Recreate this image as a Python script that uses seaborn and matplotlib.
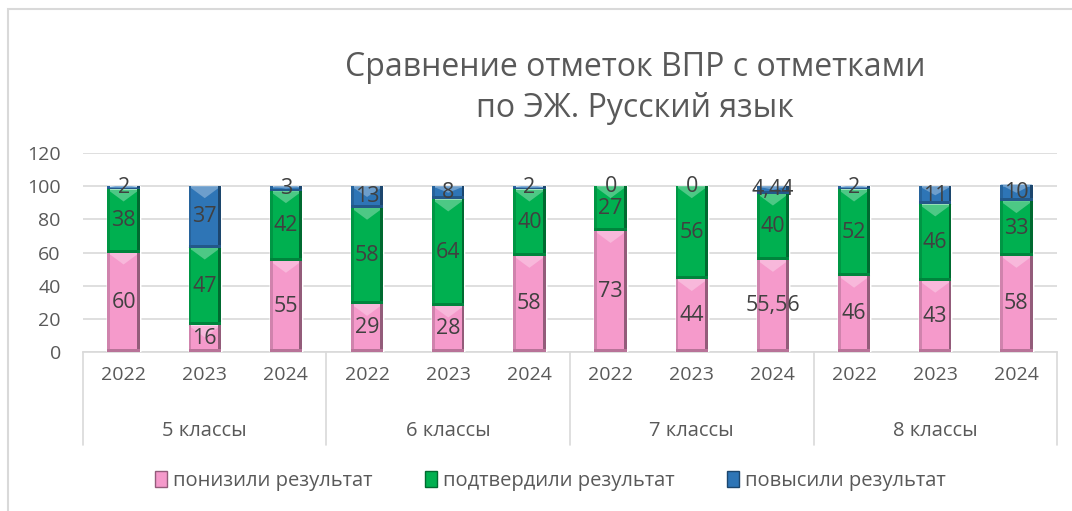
import numpy as np
import pandas as pd
import seaborn as sns
import matplotlib.pyplot as plt
from matplotlib.patches import Patch, Rectangle, Polygon
from matplotlib import colors as mcolors

"""
Data
"""
groups = ['5 классы', '6 классы', '7 классы', '8 классы']
years = ['2022', '2023', '2024']
lowered = [60, 16, 55, 29, 28, 58, 73, 44, 55.56, 46, 43, 58]
confirmed = [38, 47, 42, 58, 64, 40, 27, 56, 40, 52, 46, 33]
raised = [2, 37, 3, 13, 8, 2, 0, 0, 4.44, 2, 11, 10]
series_names = ['понизили результат', 'подтвердили результат', 'повысили результат']
series_colors = ['#F59ACB', '#00B050', '#2E75B6']
yticks = [0, 20, 40, 60, 80, 100, 120]
title = 'Сравнение отметок ВПР с отметками\nпо ЭЖ. Русский язык'

keys = [f'{g}|{y}' for g in groups for y in years]
df = pd.DataFrame({'key': keys, 'lowered': lowered, 'confirmed': confirmed, 'raised': raised})
df['c1'] = df.lowered
df['c2'] = df.lowered + df.confirmed
df['c3'] = df.c2 + df.raised

"""
Plot
"""
sns.set_style('white')
plt.rcParams['font.family'] = ['Open Sans', 'DejaVu Sans']
text_col = '#595959'

fig = plt.figure(figsize=(10.72, 5.11), dpi=100)
ax = fig.add_axes([83 / 1072, 1 - 352 / 511, (1057 - 83) / 1072, (352 - 153) / 511])

# stacked bars: draw cumulative totals from top to bottom
for col, c in zip(['c3', 'c2', 'c1'], series_colors[::-1]):
    sns.barplot(data=df, x='key', y=col, order=keys, color=c, width=0.4,
                saturation=1, errorbar=None, ax=ax, zorder=3)


def shade(c, f):
    r = np.array(mcolors.to_rgb(c))
    return tuple(np.clip(r * f, 0, 1)) if f < 1 else tuple(r + (1 - r) * (f - 1))


# bevel-ish effect on each segment
bottoms = [np.zeros(12), df.c1.values, df.c2.values]
heights = [df.lowered.values, df.confirmed.values, df.raised.values]
px_per_y = (352 - 153) / 120
for s in range(3):
    for i in range(12):
        h = heights[s][i]
        if h <= 0:
            continue
        b = bottoms[s][i]
        x0, x1 = i - 0.2, i + 0.2
        c = series_colors[s]
        ch = min(12 / px_per_y, h / 2)
        sw = 0.035
        ax.add_patch(Polygon([[x0, b + h], [x1, b + h], [i, b + h - ch]],
                             closed=True, fc=shade(c, 1.3), ec='none', zorder=4))
        ax.add_patch(Rectangle((x1 - sw, b), sw, h, fc=shade(c, 0.6), ec='none', zorder=4))
        ax.add_patch(Rectangle((x0, b), sw, h, fc=shade(c, 0.85), ec='none', zorder=4))
        ax.add_patch(Rectangle((x0, b), 0.4, min(3 / px_per_y, h / 3), fc=shade(c, 0.75),
                               ec='none', zorder=4))

# data labels
for s, vals in enumerate([df.lowered, df.confirmed, df.raised]):
    for i, v in enumerate(vals):
        y = bottoms[s][i] + v / 2
        lab = f'{v:g}'.replace('.', ',')
        ax.text(i, y, lab, ha='center', va='center', fontsize=15.5, color='#404040', zorder=6)

ax.set_ylim(0, 120)
ax.set_xlim(-0.5, 11.5)
ax.set_yticks(yticks)
ax.set_yticklabels([str(t) for t in yticks], fontsize=14, color=text_col)
ax.tick_params(axis='y', length=0, pad=16)
ax.yaxis.grid(True, color='#D9D9D9', linewidth=1.2, zorder=0)
ax.set_axisbelow(True)
ax.set_xticks(range(12))
ax.set_xticklabels([k.split('|')[1] for k in keys], fontsize=14, color=text_col)
ax.tick_params(axis='x', length=0, pad=10)
ax.set_xlabel('')
ax.set_ylabel('')
for sp in ['top', 'right', 'left']:
    ax.spines[sp].set_visible(False)
ax.spines['bottom'].set_color('#D9D9D9')
ax.spines['bottom'].set_linewidth(1.2)

# group labels and separators
trans = ax.get_xaxis_transform()
for gi, g in enumerate(groups):
    ax.text(gi * 3 + 1, -79 / (352 - 153), g, transform=trans, ha='center', va='center',
            fontsize=14.5, color=text_col)
for xb in [-0.5, 2.5, 5.5, 8.5, 11.5]:
    ax.plot([xb, xb], [0, -93 / (352 - 153)], transform=trans, color='#D9D9D9',
            linewidth=1.2, clip_on=False)

fig.text(635 / 1072, 1 - 88 / 511, title, ha='center', va='center', fontsize=23,
         color=text_col, linespacing=1.35)

# chart frame
fig.patches.append(Rectangle((8 / 1072, -0.1), 1.2, 1 - 9 / 511 + 0.1, transform=fig.transFigure,
                             fill=False, ec='#D9D9D9', lw=1.5))

handles = [Patch(fc=c, ec=shade(c, 0.6)) for c in series_colors]
fig.legend(handles, series_names, loc='center', bbox_to_anchor=(550 / 1072, 1 - 481 / 511),
           ncol=3, frameon=False, fontsize=14.5, labelcolor=text_col, handlelength=0.6,
           handleheight=0.8, handletextpad=0.3, columnspacing=2.6)

plt.savefig('out.png', dpi=100)
